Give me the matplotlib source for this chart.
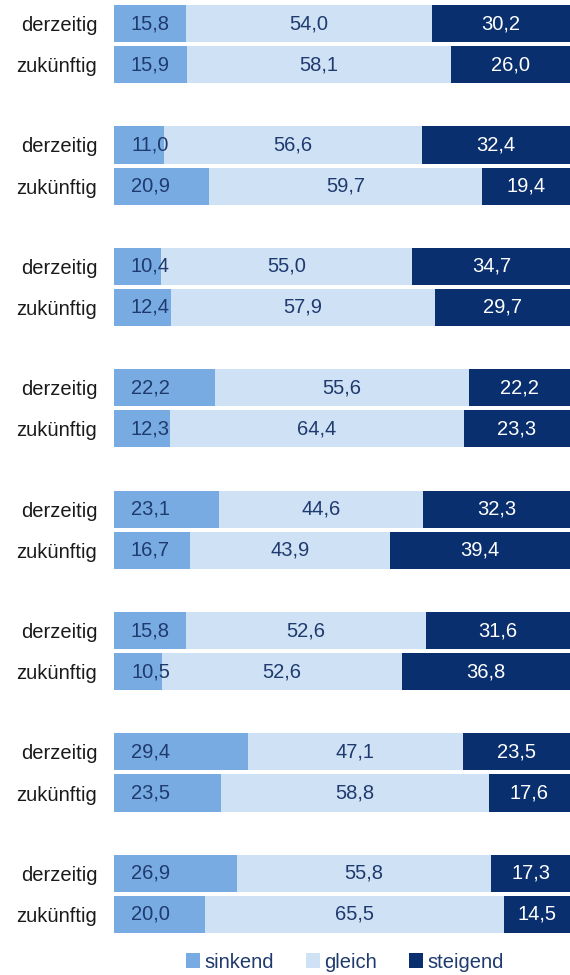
import numpy as np
import matplotlib.pyplot as plt

plt.rcParams['font.family'] = ['Liberation Sans', 'DejaVu Sans']

# data: 8 groups, each derzeitig / zukünftig
row_labels = ["derzeitig", "zukünftig"] * 8
sinkend = [15.8, 15.9, 11.0, 20.9, 10.4, 12.4, 22.2, 12.3,
           23.1, 16.7, 15.8, 10.5, 29.4, 23.5, 26.9, 20.0]
gleich = [54.0, 58.1, 56.6, 59.7, 55.0, 57.9, 55.6, 64.4,
          44.6, 43.9, 52.6, 52.6, 47.1, 58.8, 55.8, 65.5]
steigend = [30.2, 26.0, 32.4, 19.4, 34.7, 29.7, 22.2, 23.3,
            32.3, 39.4, 31.6, 36.8, 23.5, 17.6, 17.3, 14.5]
series_names = ["sinkend", "gleich", "steigend"]

c_sink = "#78ABE2"
c_gleich = "#CFE2F5"
c_steig = "#0A2F6E"
c_text = "#1F3A6E"
fs = 14.5

s = np.array(sinkend)
g = np.array(gleich)
t = np.array(steigend)

# y positions (in px-like units): group pitch 121, bar pitch 41
idx = np.arange(len(row_labels))
y = (idx // 2) * 121 + (idx % 2) * 41 + 18.5
h = 37

fig = plt.figure(figsize=(5.7, 9.75), dpi=100)
ax = fig.add_axes([114 / 570, 1 - 933 / 975, 456 / 570, 928 / 975])

ax.barh(y, s, height=h, color=c_sink, label=series_names[0])
ax.barh(y, g, left=s, height=h, color=c_gleich, label=series_names[1])
ax.barh(y, t, left=s + g, height=h, color=c_steig, label=series_names[2])

fmt = lambda v: f"{v:.1f}".replace(".", ",")
for i in range(len(y)):
    ax.text(8, y[i], fmt(s[i]), ha="center", va="center", fontsize=fs, color=c_text)
    ax.text(s[i] + g[i] / 2, y[i], fmt(g[i]), ha="center", va="center", fontsize=fs, color=c_text)
    xt = min(s[i] + g[i] + t[i] / 2, 93)
    ax.text(xt, y[i], fmt(t[i]), ha="center", va="center", fontsize=fs, color="white")

ax.set_xlim(0, 100)
ax.set_ylim(y[-1] + h / 2, y[0] - h / 2)
ax.set_yticks(y)
ax.set_yticklabels(row_labels, fontsize=fs, color="#1a1a1a")
ax.tick_params(axis="y", length=0, pad=12)
ax.set_xticks([])
for sp in ax.spines.values():
    sp.set_visible(False)

leg = fig.legend(loc="center", bbox_to_anchor=(345 / 570, 1 - 962 / 975), ncol=3,
                 frameon=False, fontsize=fs, handlelength=0.7, handleheight=0.7,
                 handletextpad=0.2, columnspacing=1.6)
for txt in leg.get_texts():
    txt.set_color(c_text)

fig.savefig("out.png", dpi=100)
